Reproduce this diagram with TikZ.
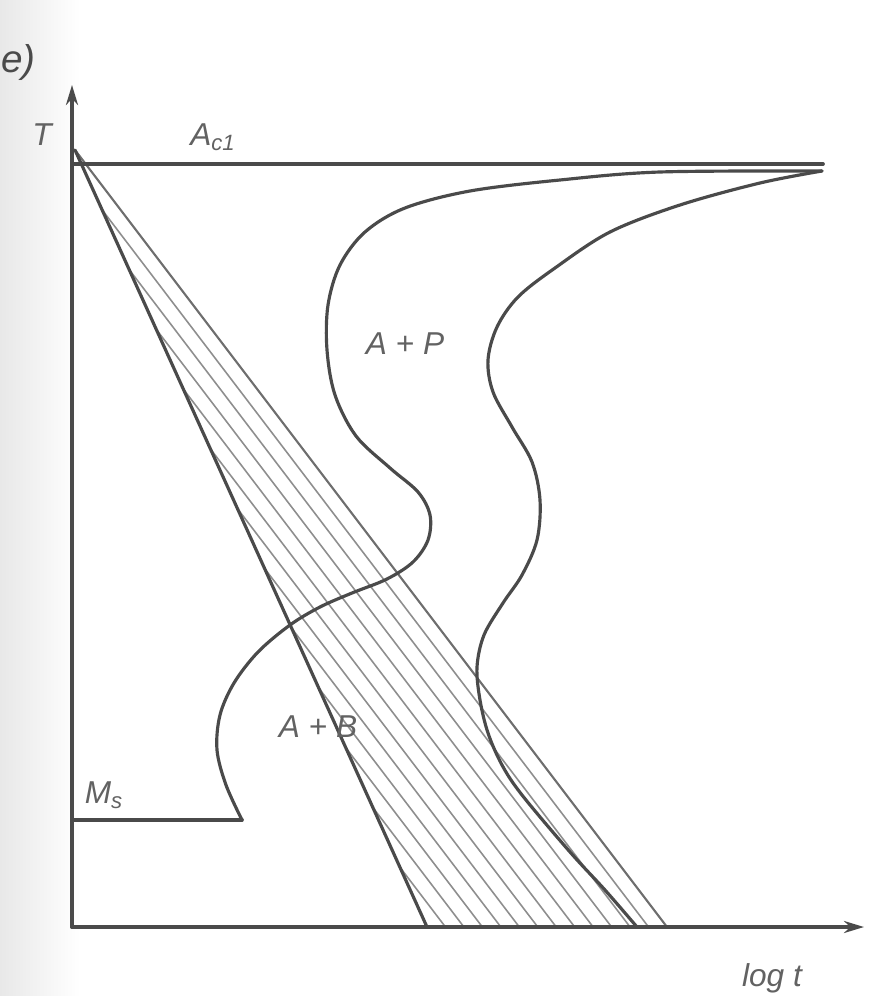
\documentclass[tikz,border=0pt]{standalone}
\usepackage{fontspec}
\setmainfont{Liberation Sans}
\usepackage{tikz}
\usetikzlibrary{arrows.meta,calc}
\definecolor{ink}{HTML}{4A4A4A}
\definecolor{rule}{HTML}{8E8E8E}
\definecolor{tag}{HTML}{626262}

\begin{document}
\begin{tikzpicture}[x=0.2mm,y=-0.2mm,line join=round,line cap=round,
  axis/.style={line width=2.1pt,draw=ink},
  curve/.style={line width=1.8pt,draw=ink},
  hatchline/.style={line width=0.9pt,draw=rule},
  lbl/.style={text=tag,font=\fontsize{18}{20}\selectfont\itshape}]
\useasboundingbox (0,0) rectangle (872,996);
\shade[left color=black!9,right color=white] (0,0) rectangle (80,996);

% axes and fixed points
\coordinate (O) at (72,927);
\coordinate (Ttop) at (72,85);
\coordinate (tEnd) at (864,927);
\coordinate (src) at (75,150);
\coordinate (lbot) at (427,927);
\coordinate (rbot) at (667,927);
\coordinate (acL) at (72,164);
\coordinate (acR) at (823,164);
\coordinate (msL) at (72,820);
\coordinate (msR) at (242,820);
\coordinate (nose) at (822,171);
\coordinate (pend) at (637,927);

% hatched cooling band
\foreach \k [evaluate=\k as \s using \k/13, evaluate=\k as \r using 1-\k/13] in {1,...,12}
  \draw[hatchline] ($(src)!\r!(lbot)$) -- ($(lbot)!\s!(rbot)$);
\draw[line width=1.2pt,draw=ink!80] (src) -- (rbot);
\draw[curve] (src) -- (lbot);

% start and end of transformation
\draw[curve] plot[smooth,tension=0.55] coordinates {(msR) (226,785) (217,750) (220,715)
  (234,683) (258,652) (290,625) (320,607) (352,593) (387,579) (413,562) (428,540)
  (430,515) (418,492) (390,468) (356,436) (335,395) (327,350) (328,305) (340,265)
  (365,232) (405,208) (470,191) (560,180) (660,172) (nose)};
\draw[curve] plot[smooth,tension=0.55] coordinates {(nose) (760,183) (680,205) (610,232)
  (555,268) (518,297) (497,327) (488,360) (493,392) (512,427) (532,462) (540,500)
  (537,540) (522,575) (503,603) (484,635) (477,667) (480,700) (488,733) (502,765)
  (522,795) (570,852) (605,890) (pend)};

\draw[axis] (acL) -- (acR);
\draw[axis] (msL) -- (msR);
\draw[axis,-{Stealth[length=4mm,width=2.4mm]}] (O) -- (Ttop);
\draw[axis,-{Stealth[length=4mm,width=2.4mm]}] (O) -- (tEnd);

\node[lbl,font=\fontsize{22}{24}\selectfont\itshape,text=ink,anchor=east] (fig) at (42,62) {e)};
\node[lbl] (Tlab) at (42,135) {T};
\node[lbl] (Aclab) at (213,137) {A\textsubscript{c1}};
\node[lbl] (Mslab) at (104,795) {M\textsubscript{s}};
\node[lbl] (APlab) at (405,344) {A + P};
\node[lbl] (ABlab) at (318,727) {A + B};
\node[lbl] (tlab) at (772,978) {log t};
\end{tikzpicture}
\end{document}
